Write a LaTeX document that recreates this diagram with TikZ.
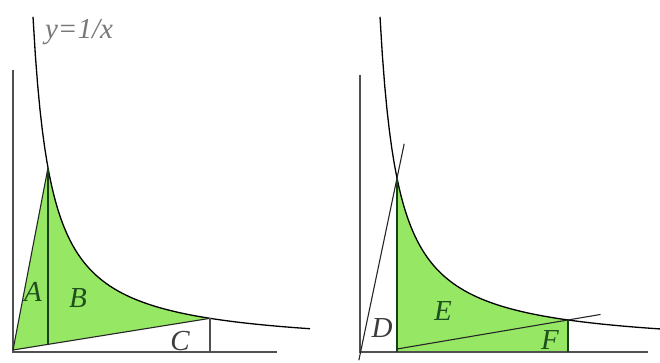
\documentclass[tikz,border=0pt]{standalone}
\usepackage{fontspec}
\setmainfont{Liberation Serif}
\usetikzlibrary{calc}
\definecolor{fillgreen}{RGB}{150,232,100}
\definecolor{labgreen}{RGB}{30,80,30}
\definecolor{axisgray}{RGB}{80,80,80}
\definecolor{labgray}{RGB}{60,60,60}
\definecolor{titlegray}{RGB}{120,120,120}
\tikzset{
  declare function={f(\x)=349-5980/(\x-15); g(\x)=f(\x-347);},
  axisline/.style={draw=axisgray, line width=1.4pt},
  curveline/.style={draw=black, line width=1.3pt},
  edgeline/.style={draw=black!85, line width=1.1pt},
  greenedge/.style={draw=labgreen!80!black, line width=1.2pt},
  greenlab/.style={text=labgreen, font=\itshape\fontsize{29}{29}\selectfont, inner sep=0pt},
  graylab/.style={text=labgray, font=\itshape\fontsize{29}{29}\selectfont, inner sep=0pt},
}
\begin{document}
\begin{tikzpicture}[x=1pt,y=-1pt]
\useasboundingbox (0,0) rectangle (660,363);
% ---------- left panel ----------
\coordinate (O1) at (13,350);
\coordinate (P1) at (48,{f(48)});
\coordinate (Q1) at (210,{f(210)});
\coordinate (H1) at (48,344.4);
\coordinate (K1) at (210,352);
\fill[fillgreen] (O1) -- (P1) -- plot[domain=48:210,samples=60] (\x,{f(\x)}) -- cycle;
\draw[axisline] (13,70) coordinate (Y1) -- (13,352) coordinate (C1) -- (277,352) coordinate (X1);
\draw[curveline] plot[domain=33:310,samples=120] (\x,{f(\x)});
\draw[edgeline] (O1) -- (P1);
\draw[edgeline] (O1) -- (Q1);
\draw[greenedge] (P1) -- (H1);
\draw[axisline, line width=1.2pt] (Q1) -- (K1);
\node[text=titlegray, font=\itshape\fontsize{29}{29}\selectfont, inner sep=0pt] (title) at (79,32) {y=1/x};
\node[greenlab] (A) at (33,292) {A};
\node[greenlab] (B) at (78,298) {B};
\node[graylab] (C) at (180,341) {C};
% ---------- right panel ----------
\coordinate (O2) at (361,350);
\coordinate (P2) at (397,{g(397)});
\coordinate (Q2) at (568,{g(568)});
\coordinate (B2) at (397,349);
\coordinate (K2) at (568,352);
\coordinate (H2) at (397,352);
\fill[fillgreen] (H2) -- (P2) -- plot[domain=397:568,samples=60] (\x,{g(\x)}) -- (K2) -- cycle;
\draw[axisline] (360,75) coordinate (Y2) -- (360,352) coordinate (C2) -- (648,352) coordinate (X2);
\draw[curveline] plot[domain=380:660,samples=120] (\x,{g(\x)});
\draw[edgeline] ($(O2)!-0.06!(P2)$) -- ($(O2)!1.2!(P2)$);
\draw[greenedge] (P2) -- (H2);
\draw[greenedge] (Q2) -- (K2);
\draw[edgeline] (B2) -- ($(B2)!1.19!(Q2)$);
\node[graylab] (D) at (382,328) {D};
\node[greenlab] (E) at (443,311) {E};
\node[greenlab] (F) at (550,340) {F};
\end{tikzpicture}
\end{document}
